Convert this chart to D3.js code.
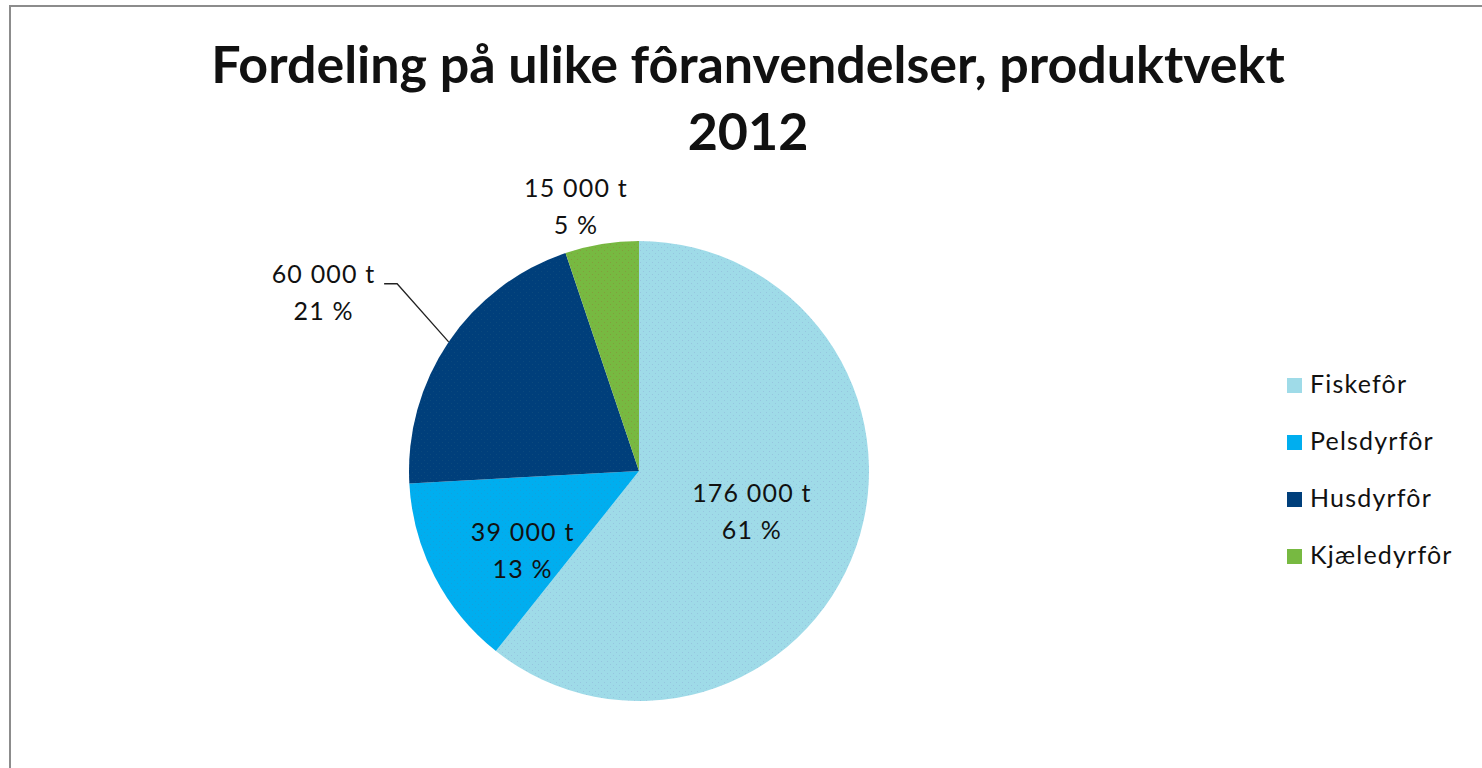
<!DOCTYPE html>
<html lang="no">
<head>
<meta charset="UTF-8">
<title>Fordeling på ulike fôranvendelser, produktvekt 2012</title>
<script src="https://d3js.org/d3.v7.min.js"></script>
<style>
  html, body { margin: 0; padding: 0; background: #fff; }
  svg { display: block; }
  text { font-family: Lato, "Open Sans", sans-serif; fill: #111; }
  .title { font-weight: bold; font-size: 52px; }
  .lbl { font-size: 25px; letter-spacing: 1.2px; }
  .legend text { font-size: 25px; letter-spacing: 1.2px; }
</style>
</head>
<body>
<div id="chart"></div>
<script>
// data
const categories = ["Fiskefôr", "Pelsdyrfôr", "Husdyrfôr", "Kjæledyrfôr"];
const tonnes = [176000, 39000, 60000, 15000];
const percentLabels = ["61 %", "13 %", "21 %", "5 %"];
const titleLines = ["Fordeling på ulike fôranvendelser, produktvekt", "2012"];

const colors = ["#9fdbe8", "#00aeef", "#003f7b", "#77b941"];
const dotColors = ["#8fb6d8", "#1a9ad6", "#12507f", "#8a8a3a"];

const W = 1482, H = 768;
const cx = 639, cy = 471, R = 230;

const svg = d3.select("#chart").append("svg")
    .attr("width", W).attr("height", H);

// frame
svg.append("rect")
    .attr("x", 10).attr("y", 6)
    .attr("width", W + 20).attr("height", H + 20)
    .attr("fill", "#fff").attr("stroke", "#8c8c8c").attr("stroke-width", 2);

// dotted textures like the original
const defs = svg.append("defs");
colors.forEach((c, i) => {
    const p = defs.append("pattern")
        .attr("id", "pat" + i)
        .attr("patternUnits", "userSpaceOnUse")
        .attr("width", 6).attr("height", 6);
    p.append("rect").attr("width", 6).attr("height", 6).attr("fill", c);
    p.append("rect").attr("x", 1).attr("y", 1).attr("width", 1).attr("height", 1)
        .attr("fill", dotColors[i]).attr("opacity", 0.6);
    p.append("rect").attr("x", 4).attr("y", 4).attr("width", 1).attr("height", 1)
        .attr("fill", dotColors[i]).attr("opacity", 0.6);
});

// title
svg.append("text").attr("class", "title")
    .attr("x", 748).attr("y", 83)
    .attr("text-anchor", "middle")
    .text(titleLines[0]);
svg.append("text").attr("class", "title")
    .attr("x", 748).attr("y", 150)
    .attr("text-anchor", "middle")
    .text(titleLines[1]);

const pieData = categories.map((c, i) => ({ name: c, value: tonnes[i], pct: percentLabels[i], i }));

const pie = d3.pie().sort(null).value(d => d.value);
const arcs = pie(pieData);
const arc = d3.arc().innerRadius(0).outerRadius(R);

const g = svg.append("g").attr("transform", `translate(${cx},${cy})`);

g.selectAll("path.slice")
    .data(arcs)
    .enter().append("path")
    .attr("class", "slice")
    .attr("d", arc)
    .attr("fill", d => `url(#pat${d.data.i})`);

const fmt = v => d3.format(",")(v).replace(/,/g, " ") + " t";

// label placement: radius factor and small turn (radians) per slice
const labelR = [0.52, 0.61, 1.58, 1.19];
const labelTurn = [0, -0.116, -0.076, -0.07];

arcs.forEach((a, k) => {
    const mid = (a.startAngle + a.endAngle) / 2 + labelTurn[k];
    const r = R * labelR[k];
    let lx = Math.sin(mid) * r, ly = -Math.cos(mid) * r;
    const lab = g.append("text").attr("class", "lbl").attr("text-anchor", "middle");
    lab.append("tspan").attr("x", lx).attr("y", ly - 8).text(fmt(a.data.value));
    lab.append("tspan").attr("x", lx).attr("y", ly + 29).text(a.data.pct);

    if (labelR[k] > 1.4) {
        // leader line
        const m = (a.startAngle + a.endAngle) / 2;
        const e = m + 0.063;
        const p0 = [Math.sin(m) * R, -Math.cos(m) * R];
        const p1 = [Math.sin(e) * R * 1.33, -Math.cos(e) * R * 1.33];
        const p2 = [p1[0] - 13, p1[1]];
        g.append("polyline")
            .attr("points", [p0, p1, p2].map(p => p.join(",")).join(" "))
            .attr("fill", "none").attr("stroke", "#222").attr("stroke-width", 1.3);
    }
});

// legend
const legend = svg.append("g").attr("class", "legend")
    .attr("transform", "translate(1287,378)");
const li = legend.selectAll("g").data(categories).enter().append("g")
    .attr("transform", (d, i) => `translate(0,${i * 57})`);
li.append("rect").attr("width", 15).attr("height", 15)
    .attr("fill", (d, i) => colors[i]);
li.append("text").attr("x", 23).attr("y", 15).text(d => d);
</script>
</body>
</html>
